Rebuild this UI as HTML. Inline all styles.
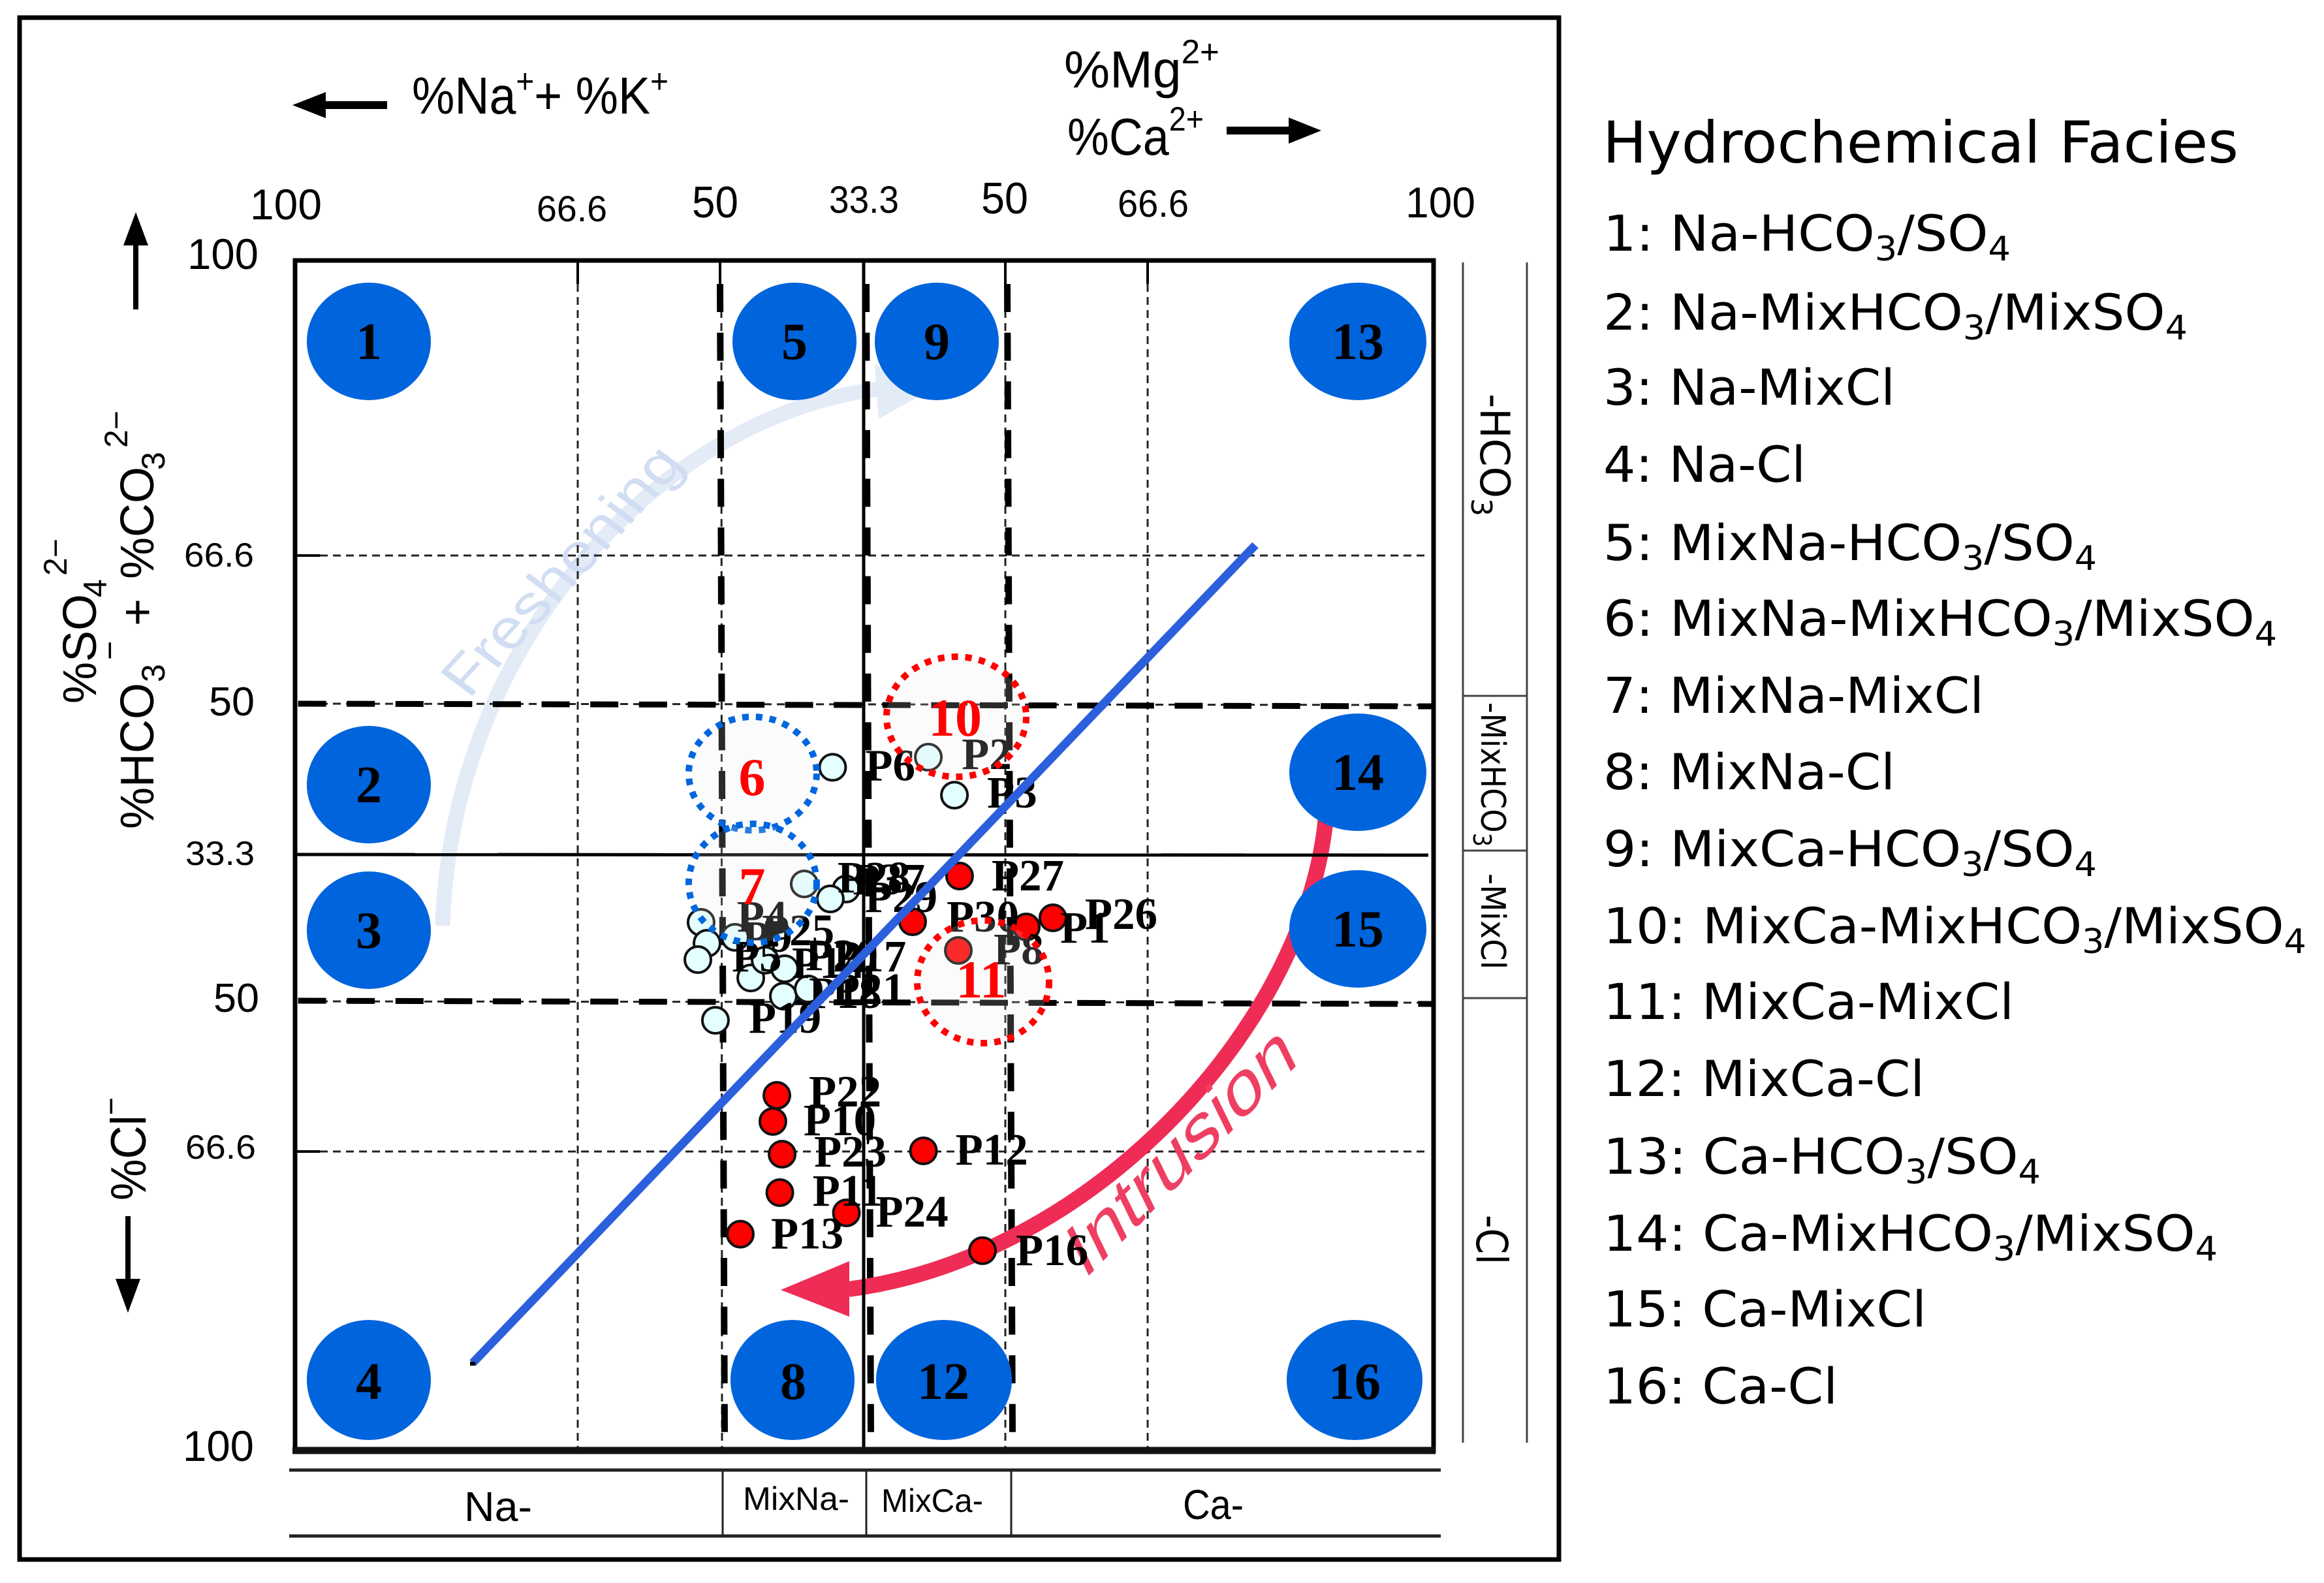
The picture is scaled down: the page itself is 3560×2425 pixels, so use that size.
<!DOCTYPE html>
<html lang="en">
<head>
<meta charset="utf-8">
<title>Hydrochemical Facies Diagram</title>
<style>
html,body{margin:0;padding:0;background:#fff;width:3560px;height:2425px;overflow:hidden}
svg{display:block}
.ax{font-family:"Liberation Sans",sans-serif;fill:#000}
.leg{font-family:"DejaVu Sans",sans-serif;font-size:76px;fill:#000}
.blob{fill:#0064DC}
.num{font-family:"Liberation Serif",serif;font-weight:bold;font-size:80px;text-anchor:middle;fill:#000}
.rednum{font-family:"Liberation Serif",serif;font-weight:bold;font-size:82px;fill:#f00}
.plabel{font-family:"Liberation Serif",serif;font-weight:bold;font-size:69px;fill:#000}
.thin{stroke:#222;stroke-width:3;stroke-dasharray:12 8;fill:none}
.thick{stroke:#000;stroke-width:10;stroke-dasharray:43 31.6;fill:none}
.solid{stroke:#000;fill:none}
</style>
</head>
<body>
<svg xmlns="http://www.w3.org/2000/svg" width="3560" height="2425" viewBox="0 0 3560 2425">
  <rect x="0" y="0" width="3560" height="2425" fill="#fff"/>
  <rect x="30" y="27" width="2358" height="2362" fill="none" stroke="#000" stroke-width="7"/>

  <!-- freshening arrow -->
  <g>
    <path d="M678,1418 C690,1000 1000,640 1345,596" fill="none" stroke="#E3EBF7" stroke-width="23"/>
    <polygon points="1340,558 1346,642 1425,597" fill="#E3EBF7"/>
  </g>
  <text class="ax" font-size="88" style="fill:#D0DDF2" transform="matrix(.678 -.735 .8 .6 718 1072)" textLength="491" lengthAdjust="spacingAndGlyphs">Freshening</text>

  <!-- thin grid -->
  <g>
    <line class="thin" x1="885" y1="435" x2="885" y2="2218"/>
    <line class="thin" x1="1105" y1="435" x2="1106" y2="2218"/>
    <line class="thin" x1="1540" y1="435" x2="1540" y2="2218"/>
    <line class="thin" x1="1758" y1="435" x2="1758" y2="2218"/>
    <line class="thin" x1="490" y1="851" x2="2190" y2="851"/>
    <line class="thin" x1="490" y1="1764" x2="2190" y2="1764"/>
    <line class="thin" x1="490" y1="1078" x2="2190" y2="1080"/>
    <line class="thin" x1="490" y1="1534" x2="2190" y2="1536"/>
    <path d="M885,399V435M1103,399V435M1540,399V435M1758,399V435M453,851H490M453,1764H490" stroke="#000" stroke-width="4" fill="none"/>
  </g>
  <!-- thick dashed facies lines -->
  <g>
    <line class="thick" x1="1103" y1="435" x2="1110" y2="2200"/>
    <line class="thick" x1="1327" y1="435" x2="1334" y2="2200"/>
    <line class="thick" x1="1543" y1="435" x2="1551" y2="2200"/>
    <line class="thick" style="stroke-width:9" x1="456.6" y1="1078" x2="2196" y2="1082"/>
    <line class="thick" style="stroke-width:9" x1="456.6" y1="1533" x2="2196" y2="1538"/>
  </g>

  <!-- intrusion arrow -->
  <g>
    <path d="M2032,1240 C2010,1560 1680,1925 1300,1975" fill="none" stroke="#EE2C55" stroke-width="24"/>
    <polygon points="1196,1976 1301,1932 1301,2017" fill="#EE2C55"/>
  </g>
  <text class="ax" font-size="110" style="fill:#EE3F62" transform="matrix(.703 -.711 .44 .9 1660 1962)" textLength="470" lengthAdjust="spacingAndGlyphs">Intrusion</text>

  <!-- solid centre lines and plot border -->
  <line class="solid" stroke-width="5" x1="1323" y1="399" x2="1323" y2="2222"/>
  <line class="solid" stroke-width="5" x1="453" y1="1309" x2="2188" y2="1310"/>
  <path d="M452,399H2196V2222H452Z" fill="none" stroke="#000" stroke-width="7"/>
  <path d="M448,2222H2199" fill="none" stroke="#111" stroke-width="11"/>

  <!-- facies blobs -->
  <g>
    <ellipse class="blob" cx="565" cy="523" rx="95" ry="90"/>
    <ellipse class="blob" cx="565" cy="1202" rx="95" ry="90"/>
    <ellipse class="blob" cx="565" cy="1425" rx="95" ry="90"/>
    <ellipse class="blob" cx="565" cy="2114" rx="95" ry="92"/>
    <ellipse class="blob" cx="1217" cy="523" rx="95" ry="90"/>
    <ellipse class="blob" cx="1214" cy="2114" rx="95" ry="92"/>
    <ellipse class="blob" cx="1435" cy="523" rx="95" ry="90"/>
    <ellipse class="blob" cx="1446" cy="2114" rx="104" ry="92"/>
    <ellipse class="blob" cx="2080" cy="523" rx="105" ry="90"/>
    <ellipse class="blob" cx="2080" cy="1183" rx="105" ry="90"/>
    <ellipse class="blob" cx="2080" cy="1423" rx="105" ry="90"/>
    <ellipse class="blob" cx="2075" cy="2114" rx="104" ry="92"/>
    <text class="num" x="565" y="550">1</text>
    <text class="num" x="565" y="1229">2</text>
    <text class="num" x="565" y="1452">3</text>
    <text class="num" x="565" y="2143">4</text>
    <text class="num" x="1217" y="550">5</text>
    <text class="num" x="1215" y="2143">8</text>
    <text class="num" x="1435" y="550">9</text>
    <text class="num" x="1445" y="2143">12</text>
    <text class="num" x="2080" y="550">13</text>
    <text class="num" x="2080" y="1210">14</text>
    <text class="num" x="2080" y="1450">15</text>
    <text class="num" x="2075" y="2143">16</text>
  </g>

  <!-- sample points and labels created by script -->
  <g id="points"></g>
  <g id="labels"></g>
  <g id="trend"></g>
  <rect x="720" y="2086" width="8" height="6" fill="#000"/>

  <!-- fog circles highlighting dominant facies -->
  <g>
    <ellipse cx="1153" cy="1185" rx="98" ry="87" fill="rgba(235,235,235,.18)" stroke="#0066DD" stroke-width="10" stroke-dasharray="10 11"/>
    <ellipse cx="1153" cy="1353" rx="98" ry="91" fill="rgba(235,235,235,.18)" stroke="#0066DD" stroke-width="10" stroke-dasharray="10 11"/>
    <ellipse cx="1465" cy="1098" rx="107" ry="92" fill="rgba(235,235,235,.18)" stroke="#f00" stroke-width="10" stroke-dasharray="10 11"/>
    <ellipse cx="1506" cy="1504" rx="101" ry="94" fill="rgba(235,235,235,.18)" stroke="#f00" stroke-width="10" stroke-dasharray="10 11"/>
    <text class="rednum" x="1152" y="1218" text-anchor="middle">6</text>
    <text class="rednum" x="1152" y="1385" text-anchor="middle">7</text>
    <text class="rednum" x="1463" y="1127" text-anchor="middle">10</text>
    <text class="rednum" x="1503" y="1528" text-anchor="middle">11</text>
  </g>

  <!-- top titles -->
  <g fill="#000">
    <polygon points="448,161 499,141 499,155 593,155 593,167 499,167 499,181"/>
    <polygon points="1879,194 1974,194 1974,180 2024,200 1974,220 1974,206 1879,206"/>
    <polygon points="208,325 227,376 212,376 212,474 204,474 204,376 189,376"/>
    <polygon points="196,2011 177,1959 192,1959 192,1863 200,1863 200,1959 215,1959"/>
  </g>
  <text class="ax" x="631" y="174" font-size="80" textLength="393" lengthAdjust="spacingAndGlyphs">%Na<tspan dy="-32" font-size="52">+</tspan><tspan dy="32">+ %K</tspan><tspan dy="-32" font-size="52">+</tspan></text>
  <text class="ax" x="1630" y="134" font-size="80" textLength="238" lengthAdjust="spacingAndGlyphs">%Mg<tspan dy="-37" font-size="52">2+</tspan></text>
  <text class="ax" x="1635" y="237" font-size="80" textLength="209" lengthAdjust="spacingAndGlyphs">%Ca<tspan dy="-37" font-size="52">2+</tspan></text>

  <!-- top ticks -->
  <g>
    <text class="ax" x="383" y="336" font-size="66" textLength="110" lengthAdjust="spacingAndGlyphs">100</text>
    <text class="ax" x="822" y="339" font-size="56" textLength="108" lengthAdjust="spacingAndGlyphs">66.6</text>
    <text class="ax" x="1060" y="333" font-size="68" textLength="71" lengthAdjust="spacingAndGlyphs">50</text>
    <text class="ax" x="1270" y="326" font-size="58" textLength="107" lengthAdjust="spacingAndGlyphs">33.3</text>
    <text class="ax" x="1503" y="327" font-size="68" textLength="72" lengthAdjust="spacingAndGlyphs">50</text>
    <text class="ax" x="1712" y="332" font-size="58" textLength="109" lengthAdjust="spacingAndGlyphs">66.6</text>
    <text class="ax" x="2153" y="333" font-size="66" textLength="107" lengthAdjust="spacingAndGlyphs">100</text>
  </g>
  <!-- left ticks -->
  <g>
    <text class="ax" x="287" y="412" font-size="66" textLength="109" lengthAdjust="spacingAndGlyphs">100</text>
    <text class="ax" x="282" y="868" font-size="52" textLength="107" lengthAdjust="spacingAndGlyphs">66.6</text>
    <text class="ax" x="320" y="1096" font-size="62" textLength="70" lengthAdjust="spacingAndGlyphs">50</text>
    <text class="ax" x="284" y="1325" font-size="52" textLength="106" lengthAdjust="spacingAndGlyphs">33.3</text>
    <text class="ax" x="327" y="1550" font-size="62" textLength="70" lengthAdjust="spacingAndGlyphs">50</text>
    <text class="ax" x="284" y="1775" font-size="52" textLength="108" lengthAdjust="spacingAndGlyphs">66.6</text>
    <text class="ax" x="280" y="2238" font-size="66" textLength="109" lengthAdjust="spacingAndGlyphs">100</text>
  </g>
  <!-- y titles -->
  <text class="ax" font-size="72" transform="translate(147,1078) rotate(-90)">%SO<tspan x="163" dy="16" font-size="50">4</tspan><tspan x="196" dy="-61" font-size="50">2−</tspan></text>
  <text class="ax" font-size="72" transform="translate(235,1270) rotate(-90)">%HCO<tspan x="225" dy="17" font-size="50">3</tspan><tspan x="259" dy="-67" font-size="50">−</tspan><tspan x="311" dy="50">+</tspan><tspan x="383">%CO</tspan><tspan x="550" dy="17" font-size="50">3</tspan><tspan x="584" dy="-57" font-size="50">2−</tspan></text>
  <text class="ax" font-size="76" transform="translate(223,1839) rotate(-90)" textLength="158" lengthAdjust="spacingAndGlyphs">%Cl<tspan dy="-36" font-size="50">−</tspan></text>

  <!-- bottom cation table -->
  <g>
    <path d="M443,2252H2207M443,2353H2207" stroke="#222" stroke-width="5" fill="none"/>
    <path d="M1107,2252V2353M1327,2252V2353M1549,2252V2353" stroke="#222" stroke-width="3" fill="none"/>
    <text class="ax" x="711" y="2330" font-size="64" textLength="104" lengthAdjust="spacingAndGlyphs">Na-</text>
    <text class="ax" x="1138" y="2313" font-size="50" textLength="163" lengthAdjust="spacingAndGlyphs">MixNa-</text>
    <text class="ax" x="1350" y="2316" font-size="50" textLength="156" lengthAdjust="spacingAndGlyphs">MixCa-</text>
    <text class="ax" x="1812" y="2327" font-size="64" textLength="93" lengthAdjust="spacingAndGlyphs">Ca-</text>
  </g>

  <!-- right anion table -->
  <g>
    <path d="M2241,402V2210M2339,402V2210" stroke="#444" stroke-width="3" fill="none"/>
    <path d="M2241,1066H2339M2241,1303H2339M2241,1529H2339" stroke="#444" stroke-width="3" fill="none"/>
    <text class="leg" style="font-size:62px" transform="translate(2268,603) rotate(90)" textLength="188" lengthAdjust="spacingAndGlyphs">-HCO<tspan dy="14" font-size="44">3</tspan></text>
    <text class="leg" style="font-size:52px" transform="translate(2269,1076) rotate(90)" textLength="221" lengthAdjust="spacingAndGlyphs">-MixHCO<tspan dy="12" font-size="38">3</tspan></text>
    <text class="leg" style="font-size:52px" transform="translate(2269,1338) rotate(90)" textLength="147" lengthAdjust="spacingAndGlyphs">-MixCl</text>
    <text class="leg" style="font-size:66px" transform="translate(2262,1861) rotate(90)" textLength="76" lengthAdjust="spacingAndGlyphs">-Cl</text>
  </g>

  <!-- legend -->
  <g>
    <text class="leg" style="font-size:88px" x="2455" y="249" textLength="974" lengthAdjust="spacingAndGlyphs">Hydrochemical Facies</text>
    <text class="leg" x="2456" y="384" textLength="624" lengthAdjust="spacingAndGlyphs">1: Na-HCO<tspan dy="15" font-size="52">3</tspan><tspan dy="-15">/SO</tspan><tspan dy="15" font-size="52">4</tspan></text>
    <text class="leg" x="2456" y="505" textLength="895" lengthAdjust="spacingAndGlyphs">2: Na-MixHCO<tspan dy="15" font-size="52">3</tspan><tspan dy="-15">/MixSO</tspan><tspan dy="15" font-size="52">4</tspan></text>
    <text class="leg" x="2456" y="620" textLength="447" lengthAdjust="spacingAndGlyphs">3: Na-MixCl</text>
    <text class="leg" x="2456" y="738" textLength="310" lengthAdjust="spacingAndGlyphs">4: Na-Cl</text>
    <text class="leg" x="2456" y="858" textLength="756" lengthAdjust="spacingAndGlyphs">5: MixNa-HCO<tspan dy="15" font-size="52">3</tspan><tspan dy="-15">/SO</tspan><tspan dy="15" font-size="52">4</tspan></text>
    <text class="leg" x="2456" y="974" textLength="1032" lengthAdjust="spacingAndGlyphs">6: MixNa-MixHCO<tspan dy="15" font-size="52">3</tspan><tspan dy="-15">/MixSO</tspan><tspan dy="15" font-size="52">4</tspan></text>
    <text class="leg" x="2456" y="1092" textLength="583" lengthAdjust="spacingAndGlyphs">7: MixNa-MixCl</text>
    <text class="leg" x="2456" y="1209" textLength="447" lengthAdjust="spacingAndGlyphs">8: MixNa-Cl</text>
    <text class="leg" x="2456" y="1327" textLength="756" lengthAdjust="spacingAndGlyphs">9: MixCa-HCO<tspan dy="15" font-size="52">3</tspan><tspan dy="-15">/SO</tspan><tspan dy="15" font-size="52">4</tspan></text>
    <text class="leg" x="2456" y="1445" textLength="1077" lengthAdjust="spacingAndGlyphs">10: MixCa-MixHCO<tspan dy="15" font-size="52">3</tspan><tspan dy="-15">/MixSO</tspan><tspan dy="15" font-size="52">4</tspan></text>
    <text class="leg" x="2456" y="1561" textLength="629" lengthAdjust="spacingAndGlyphs">11: MixCa-MixCl</text>
    <text class="leg" x="2456" y="1679" textLength="492" lengthAdjust="spacingAndGlyphs">12: MixCa-Cl</text>
    <text class="leg" x="2456" y="1798" textLength="670" lengthAdjust="spacingAndGlyphs">13: Ca-HCO<tspan dy="15" font-size="52">3</tspan><tspan dy="-15">/SO</tspan><tspan dy="15" font-size="52">4</tspan></text>
    <text class="leg" x="2456" y="1916" textLength="941" lengthAdjust="spacingAndGlyphs">14: Ca-MixHCO<tspan dy="15" font-size="52">3</tspan><tspan dy="-15">/MixSO</tspan><tspan dy="15" font-size="52">4</tspan></text>
    <text class="leg" x="2456" y="2032" textLength="495" lengthAdjust="spacingAndGlyphs">15: Ca-MixCl</text>
    <text class="leg" x="2456" y="2150" textLength="359" lengthAdjust="spacingAndGlyphs">16: Ca-Cl</text>
  </g>
</svg>
<script>
// Sample data: position on the diagram in plot percent units (0 = left / top, 100 = right / bottom)
const freshNames = ["P6","P2","P3","P28","P37","P29","P4","P9","P5","P25","P14","P20","P17","P18","P21","P19"];
const freshX = [47.16,55.56,57.85,44.67,48.34,46.96,35.62,36.14,35.34,38.60,39.98,41.24,42.96,42.84,45.02,36.88];
const freshY = [42.59,41.74,44.93,52.39,52.82,53.65,55.62,57.38,58.75,56.88,60.29,58.80,59.52,61.82,61.22,63.85];
const salineNames = ["P27","P30","P1","P26","P8","P22","P10","P23","P12","P11","P24","P13","P16"];
const salineX = [58.30,54.18,64.15,66.49,58.19,42.27,41.92,42.73,55.13,42.53,48.37,39.06,60.31];
const salineY = [51.73,55.57,56.01,55.24,57.98,70.16,72.35,75.10,74.82,78.33,80.03,81.82,83.21];
const trendX = [15.58,84.25];
const trendY = [92.65,23.92];

// Axis functions
function xAxis(v){ return 452 + v * 17.46; }
function yAxis(v){ return 399 + v * 18.23; }

// Label placement relative to each mark (layout, not data)
const labelShift = {
  P6:[50,20],P2:[51,18],P3:[50,19],P28:[51,13],P37:[10,8],P29:[53,20],P4:[55,14],P9:[54,13],P5:[52,18],
  P25:[41,12],P14:[63,0],P20:[62,15],P17:[75,4],P18:[39,18],P21:[37,23],P19:[51,19],
  P27:[49,22],P30:[52,15],P1:[52,24],P26:[49,17],P8:[54,21],P22:[49,17],P10:[47,21],P23:[49,19],
  P12:[49,21],P11:[50,20],P24:[45,21],P13:[47,22],P16:[51,22]
};

const NS = "http://www.w3.org/2000/svg";
const pointsLayer = document.getElementById("points");
const labelsLayer = document.getElementById("labels");
const trendLayer = document.getElementById("trend");

function drawSeries(names, xs, ys, fill){
  names.forEach(function(name, i){
    const cx = xAxis(xs[i]);
    const cy = yAxis(ys[i]);
    const c = document.createElementNS(NS, "circle");
    c.setAttribute("cx", cx);
    c.setAttribute("cy", cy);
    c.setAttribute("r", 20);
    c.setAttribute("fill", fill);
    c.setAttribute("stroke", "#111");
    c.setAttribute("stroke-width", 4);
    
    
    pointsLayer.appendChild(c);
    const t = document.createElementNS(NS, "text");
    t.setAttribute("class", "plabel");
    t.setAttribute("x", cx + labelShift[name][0]);
    t.setAttribute("y", cy + labelShift[name][1]);
    t.textContent = name;
    
    
    labelsLayer.appendChild(t);
  });
}
drawSeries(freshNames, freshX, freshY, "#E4FFFF");
drawSeries(salineNames, salineX, salineY, "#FF0000");

const trendLine = document.createElementNS(NS, "line");
trendLine.setAttribute("x1", xAxis(trendX[0]));
trendLine.setAttribute("y1", yAxis(trendY[0]));
trendLine.setAttribute("x2", xAxis(trendX[1]));
trendLine.setAttribute("y2", yAxis(trendY[1]));
trendLine.setAttribute("stroke", "#2B5FDC");
trendLine.setAttribute("stroke-width", 13);


trendLayer.appendChild(trendLine);
</script>
</body>
</html>
